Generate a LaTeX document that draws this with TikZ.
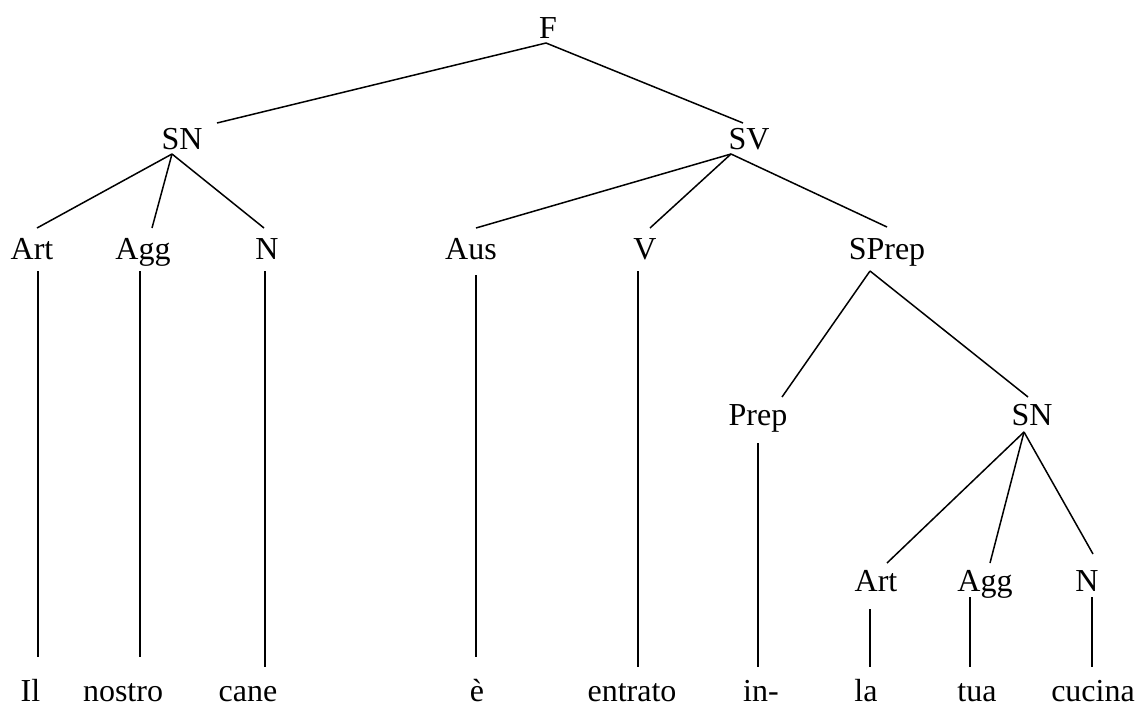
\documentclass[tikz,border=0pt]{standalone}
\usepackage{fontspec}
\setmainfont{Liberation Serif}
\begin{document}
\begin{tikzpicture}[x=1pt,y=-1pt,
  lbl/.style={anchor=base,inner sep=0pt,font=\fontsize{32}{38}\selectfont},
  branch/.style={draw=black,line width=1.5pt}]
\useasboundingbox[fill=white] (0,0) rectangle (1139,704);

% category labels (positioned on their baselines)
\node[lbl] (F)     at (548,38)  {F};
\node[lbl] (SNa)   at (182,149) {SN};
\node[lbl] (SV)    at (749,149) {SV};
\node[lbl] (Arta)  at (32,259)  {Art};
\node[lbl] (Agga)  at (143,259) {Agg};
\node[lbl] (Na)    at (267,259) {N};
\node[lbl] (Aus)   at (471,259) {Aus};
\node[lbl] (V)     at (645,259) {V};
\node[lbl] (SPrep) at (887,259) {SPrep};
\node[lbl] (Prep)  at (758,425) {Prep};
\node[lbl] (SNb)   at (1032,425) {SN};
\node[lbl] (Artb)  at (876,591) {Art};
\node[lbl] (Aggb)  at (985,591) {Agg};
\node[lbl] (Nb)    at (1087,591) {N};

% terminal words
\node[lbl] (Il)      at (30.5,701) {Il};
\node[lbl] (nostro)  at (123,701)  {nostro};
\node[lbl] (cane)    at (248,701)  {cane};
\node[lbl] (e)       at (477,701)  {è};
\node[lbl] (entrato) at (632,701)  {entrato};
\node[lbl] (in)      at (761,701)  {in-};
\node[lbl] (la)      at (866,701)  {la};
\node[lbl] (tua)     at (977,701)  {tua};
\node[lbl] (cucina)  at (1093,701) {cucina};

% attachment points: -dn below a label, -up above a label
\coordinate (F-dn)     at (546,43);
\coordinate (SNa-up)   at (217,123);
\coordinate (SNa-dn)   at (172,154);
\coordinate (SV-up)    at (743,123);
\coordinate (SV-dn)    at (731,154);
\coordinate (Arta-up)  at (37,228);
\coordinate (Arta-dn)  at (38,271);
\coordinate (Agga-up)  at (152,228);
\coordinate (Agga-dn)  at (140,271);
\coordinate (Na-up)    at (264,228);
\coordinate (Na-dn)    at (265,271);
\coordinate (Aus-up)   at (476,228);
\coordinate (Aus-dn)   at (476,275);
\coordinate (V-up)     at (650,228);
\coordinate (V-dn)     at (638,271);
\coordinate (SPrep-up) at (887,227);
\coordinate (SPrep-dn) at (870,271);
\coordinate (Prep-up)  at (782,397);
\coordinate (Prep-dn)  at (758,443);
\coordinate (SNb-up)   at (1028,397);
\coordinate (SNb-dn)   at (1024,432);
\coordinate (Artb-up)  at (887,563);
\coordinate (Artb-dn)  at (870,609);
\coordinate (Aggb-up)  at (990,563);
\coordinate (Aggb-dn)  at (970,597);
\coordinate (Nb-up)    at (1093,554);
\coordinate (Nb-dn)    at (1092,597);
\coordinate (Il-up)      at (38,657);
\coordinate (nostro-up)  at (140,657);
\coordinate (cane-up)    at (265,667);
\coordinate (e-up)       at (476,657);
\coordinate (entrato-up) at (638,667);
\coordinate (in-up)      at (758,667);
\coordinate (la-up)      at (870,667);
\coordinate (tua-up)     at (970,667);
\coordinate (cucina-up)  at (1092,667);

% branches
\draw[branch] (F-dn) -- (SNa-up);
\draw[branch] (F-dn) -- (SV-up);
\draw[branch] (SNa-dn) -- (Arta-up);
\draw[branch] (SNa-dn) -- (Agga-up);
\draw[branch] (SNa-dn) -- (Na-up);
\draw[branch] (SV-dn) -- (Aus-up);
\draw[branch] (SV-dn) -- (V-up);
\draw[branch] (SV-dn) -- (SPrep-up);
\draw[branch] (SPrep-dn) -- (Prep-up);
\draw[branch] (SPrep-dn) -- (SNb-up);
\draw[branch] (SNb-dn) -- (Artb-up);
\draw[branch] (SNb-dn) -- (Aggb-up);
\draw[branch] (SNb-dn) -- (Nb-up);

% lexical links
\draw[branch] (Arta-dn) -- (Il-up);
\draw[branch] (Agga-dn) -- (nostro-up);
\draw[branch] (Na-dn) -- (cane-up);
\draw[branch] (Aus-dn) -- (e-up);
\draw[branch] (V-dn) -- (entrato-up);
\draw[branch] (Prep-dn) -- (in-up);
\draw[branch] (Artb-dn) -- (la-up);
\draw[branch] (Aggb-dn) -- (tua-up);
\draw[branch] (Nb-dn) -- (cucina-up);
\end{tikzpicture}
\end{document}
